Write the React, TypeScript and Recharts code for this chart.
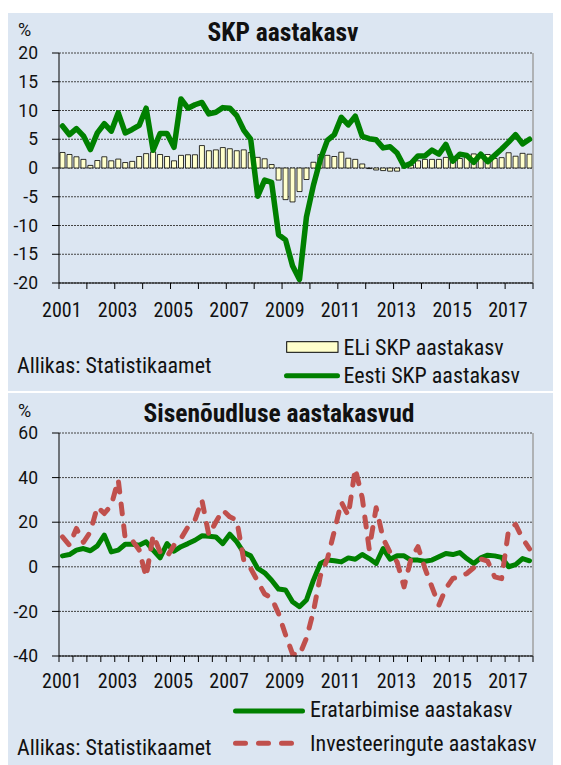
import React from 'react';
import { ComposedChart, Bar, Line, XAxis, YAxis, CartesianGrid, ReferenceLine } from 'recharts';

// ---- categories ----
const years = [2001, 2002, 2003, 2004, 2005, 2006, 2007, 2008, 2009, 2010, 2011, 2012, 2013, 2014, 2015, 2016, 2017];
const quarterNames = ['I', 'II', 'III', 'IV'];
const yearLabels = [2001, 2003, 2005, 2007, 2009, 2011, 2013, 2015, 2017];

// ---- chart 1: SKP aastakasv (%) ----
const euGdp = [
  2.7, 2.35, 1.95, 1.5,
  0.45, 1.3, 1.95, 1.25,
  1.55, 0.95, 1.15, 2.0,
  2.5, 2.8, 2.35, 2.0,
  1.25, 2.2, 2.3, 2.3,
  3.9, 3.0, 3.15, 3.55,
  3.35, 3.0, 3.15, 2.7,
  1.85, 1.6, 0.6, -2.1,
  -5.5, -5.9, -4.1, -2.0,
  1.0, 2.35, 2.2, 2.0,
  2.75, 1.7, 1.5, 0.7,
  -0.1, -0.35, -0.45, -0.55,
  -0.55, 0.0, 0.5, 1.25,
  1.5, 1.5, 1.5, 1.85,
  1.5, 1.65, 1.8, 2.45,
  2.35, 2.35, 1.65, 1.8,
  2.65, 2.05, 2.55, 2.4,
];
const estGdp = [
  7.3, 5.8, 6.85, 5.6,
  3.2, 6.1, 7.7, 6.4,
  9.6, 6.1, 6.7, 7.4,
  10.4, 3.1, 6.0, 6.0,
  3.6, 12.0, 10.4, 11.0,
  11.4, 9.4, 9.7, 10.5,
  10.4, 9.1, 6.6, 5.0,
  -4.9, -2.1, -2.5, -11.6,
  -12.5, -17.0, -19.4, -8.5,
  -3.0, 1.5, 4.8, 5.8,
  8.8, 7.5, 9.0, 5.5,
  5.1, 4.9, 3.5, 3.7,
  2.6, 0.3, 0.8, 2.1,
  2.1, 3.1, 2.4, 4.1,
  1.2, 2.4, 2.2, 1.0,
  2.4, 1.1, 2.2, 3.3,
  4.5, 5.8, 4.2, 5.0,
];
const gdpTicks = [-20, -15, -10, -5, 0, 5, 10, 15, 20];

// ---- chart 2: Sisenõudluse aastakasvud (%) ----
const consumption = [
  4.9, 5.5, 7.5, 8.2,
  7.2, 9.4, 14.2, 6.7,
  7.5, 10.1, 10.1, 9.7,
  11.2, 7.5, 4.0, 10.4,
  7.0, 9.0, 10.4, 11.9,
  13.9, 13.7, 13.4, 10.4,
  14.6, 11.2, 6.4, 4.9,
  -0.7, -2.7, -6.0, -10.0,
  -10.4, -15.7, -17.9, -14.9,
  -6.0, 1.5, 3.0, 2.7,
  2.2, 4.0, 3.4, 5.5,
  3.7, 1.5, 8.2, 3.4,
  4.9, 4.9, 3.0, 3.0,
  2.5, 3.0, 4.5, 6.0,
  5.5, 6.4, 3.7, 1.5,
  4.0, 5.2, 4.9, 4.2,
  0.0, 1.0, 3.7, 2.7,
];
const investment = [
  13.4, 9.7, 17.2, 11.0,
  15.7, 26.9, 23.9, 27.6,
  39.0, 12.7, 11.9, 7.5,
  -4.5, 14.2, 6.7, 4.5,
  9.7, 12.7, 17.9, 20.9,
  29.9, 14.2, 20.1, 25.4,
  22.4, 20.9, 3.0, -0.7,
  -6.5, -12.2, -14.0, -21.0,
  -30.5, -39.0, -39.6, -32.0,
  -20.0, -4.0, 3.5, 16.0,
  29.0, 23.0, 44.0, 31.0,
  8.0, 26.5, 12.7, 6.4,
  2.2, -9.0, 3.7, 9.0,
  -0.7, -9.0, -17.2, -9.7,
  -5.2, -4.5, -3.0, -0.4,
  3.5, 2.5, -4.5, -5.3,
  16.5, 19.0, 12.7, 8.0,
];
const demandTicks = [-40, -20, 0, 20, 40, 60];

// ---- table for the library ----
const quarters: string[] = [];
years.forEach((y) => quarterNames.forEach((q) => quarters.push(`${y} ${q}`)));
const rows = quarters.map((q, i) => ({
  q,
  t: i + 0.5,
  eu: euGdp[i],
  est: estGdp[i],
  cons: consumption[i],
  inv: investment[i],
}));
const yearTicks = years.map((_, i) => i * 4).concat([years.length * 4]);
const halfYearTicks = Array.from({ length: years.length * 2 + 1 }, (_, i) => i * 2);

// ---- styles ----
const BG = '#DCE6F2';
const GREEN = '#008000';
const RED = '#C0504D';
const BAR = '#FFFFCC';
const TXT = '#111111';
const COND = "'Roboto Condensed', 'Liberation Sans Narrow', 'DejaVu Sans Condensed', Roboto, sans-serif";
const REG = "Roboto, sans-serif";

const W = 552;

// year label drawn next to the year-start tick, for the labelled years only
function YearTick(props: any) {
  const { x, y, payload } = props;
  const year = years[0] + Math.floor(payload.value / 4);
  if (payload.value % 4 !== 0 || !yearLabels.includes(year)) return <g />;
  return (
    <text x={x + 2.8} y={y} dy="0.71em" textAnchor="middle" fontFamily={COND} fontSize={20} fill={TXT}>
      {year}
    </text>
  );
}

export default function App() {
  const yTick = { fontSize: 17.5, fill: TXT, fontFamily: REG };
  return (
    <div style={{ position: 'relative', width: 553, height: 757 }}>
      {/* Panel 1 */}
      <div style={{ position: 'absolute', left: 0, top: 5, width: W, height: 378, background: BG }}>
        <div style={{ position: 'absolute', left: 0, top: 0 }}>
          <ComposedChart width={W} height={378} data={rows} margin={{ top: 40, right: 27, bottom: 70, left: 0 }}>
            <CartesianGrid vertical={false} stroke="#444" strokeDasharray="2 1" />
            <XAxis
              type="number"
              dataKey="t"
              domain={[0, 68]}
              ticks={yearTicks}
              interval={0}
              tick={<YearTick />}
              tickSize={6}
              tickMargin={14}
              height={38}
              axisLine={{ stroke: '#000', strokeWidth: 1 }}
              tickLine={{ stroke: '#000' }}
            />
            <YAxis
              type="number"
              domain={[-20, 20]}
              ticks={gdpTicks}
              interval={0}
              width={51}
              tickSize={7}
              tickMargin={14}
              axisLine={{ stroke: '#000' }}
              tickLine={{ stroke: '#000' }}
              tick={yTick}
            />
            <ReferenceLine x={68} stroke="#A0A0A0" strokeWidth={1.5} />
            <Bar dataKey="eu" name="ELi SKP aastakasv" fill={BAR} stroke="#000" strokeWidth={0.8} barSize={5} isAnimationActive={false} />
            <Line
              type="linear"
              dataKey="est"
              name="Eesti SKP aastakasv"
              stroke={GREEN}
              strokeWidth={5.5}
              dot={false}
              activeDot={false}
              strokeLinejoin="round"
              strokeLinecap="round"
              isAnimationActive={false}
            />
          </ComposedChart>
        </div>
        <svg width={W} height={378} style={{ position: 'absolute', left: 0, top: 0, pointerEvents: 'none' }}>
          <text x={275} y={28} textAnchor="middle" fontFamily={COND} fontWeight="bold" fontSize={25.5} fill={TXT}>SKP aastakasv</text>
          <text x={10} y={23} fontFamily={REG} fontSize={18} fill={TXT}>%</text>
          <text x={9} y={360.3} fontFamily={COND} fontSize={22} fill={TXT}>Allikas: Statistikaamet</text>
          <rect x={278.7} y={328.7} width={51.3} height={10.6} fill={BAR} stroke="#000" strokeWidth={1} />
          <text x={335.5} y={342} fontFamily={COND} fontSize={22} fill={TXT}>ELi SKP aastakasv</text>
          <line x1={278.5} x2={329.5} y1={362.7} y2={362.7} stroke={GREEN} strokeWidth={5} strokeLinecap="round" />
          <text x={335.5} y={370.3} fontFamily={COND} fontSize={22} fill={TXT}>Eesti SKP aastakasv</text>
        </svg>
      </div>

      {/* Panel 2 */}
      <div style={{ position: 'absolute', left: 0, top: 385, width: W, height: 372, background: BG }}>
        <div style={{ position: 'absolute', left: 0, top: 0 }}>
          <ComposedChart width={W} height={372} data={rows} margin={{ top: 40, right: 27, bottom: 71, left: 0 }}>
            <CartesianGrid vertical={false} stroke="#444" strokeDasharray="2 1" />
            <XAxis
              type="number"
              dataKey="t"
              domain={[0, 68]}
              ticks={halfYearTicks}
              interval={0}
              tick={<YearTick />}
              tickSize={6}
              tickMargin={12}
              height={38}
              axisLine={{ stroke: '#000', strokeWidth: 1 }}
              tickLine={{ stroke: '#000' }}
            />
            <YAxis
              type="number"
              domain={[-40, 60]}
              ticks={demandTicks}
              interval={0}
              width={51}
              tickSize={7}
              tickMargin={14}
              axisLine={{ stroke: '#000' }}
              tickLine={{ stroke: '#000' }}
              tick={yTick}
            />
            <ReferenceLine x={68} stroke="#A0A0A0" strokeWidth={1.5} />
            <Line
              type="linear"
              dataKey="cons"
              name="Eratarbimise aastakasv"
              stroke={GREEN}
              strokeWidth={5}
              dot={false}
              activeDot={false}
              strokeLinejoin="round"
              strokeLinecap="round"
              isAnimationActive={false}
            />
            <Line
              type="linear"
              dataKey="inv"
              name="Investeeringute aastakasv"
              stroke={RED}
              strokeWidth={5}
              strokeDasharray="10 12"
              dot={false}
              activeDot={false}
              strokeLinejoin="round"
              strokeLinecap="round"
              isAnimationActive={false}
            />
          </ComposedChart>
        </div>
        <svg width={W} height={372} style={{ position: 'absolute', left: 0, top: 0, pointerEvents: 'none' }}>
          <text x={271} y={28.7} textAnchor="middle" fontFamily={COND} fontWeight="bold" fontSize={25.5} fill={TXT}>Sisenõudluse aastakasvud</text>
          <text x={10} y={24} fontFamily={REG} fontSize={18} fill={TXT}>%</text>
          <line x1={227.5} x2={294.5} y1={318} y2={318} stroke={GREEN} strokeWidth={5} strokeLinecap="round" />
          <text x={302} y={324.3} fontFamily={COND} fontSize={22} fill={TXT}>Eratarbimise aastakasv</text>
          <line x1={227.5} x2={290} y1={350.3} y2={350.3} stroke={RED} strokeWidth={5} strokeDasharray="10 13" strokeLinecap="round" />
          <text x={302} y={357.7} fontFamily={COND} fontSize={22} fill={TXT}>Investeeringute aastakasv</text>
          <text x={9} y={362} fontFamily={COND} fontSize={22} fill={TXT}>Allikas: Statistikaamet</text>
        </svg>
      </div>
    </div>
  );
}
